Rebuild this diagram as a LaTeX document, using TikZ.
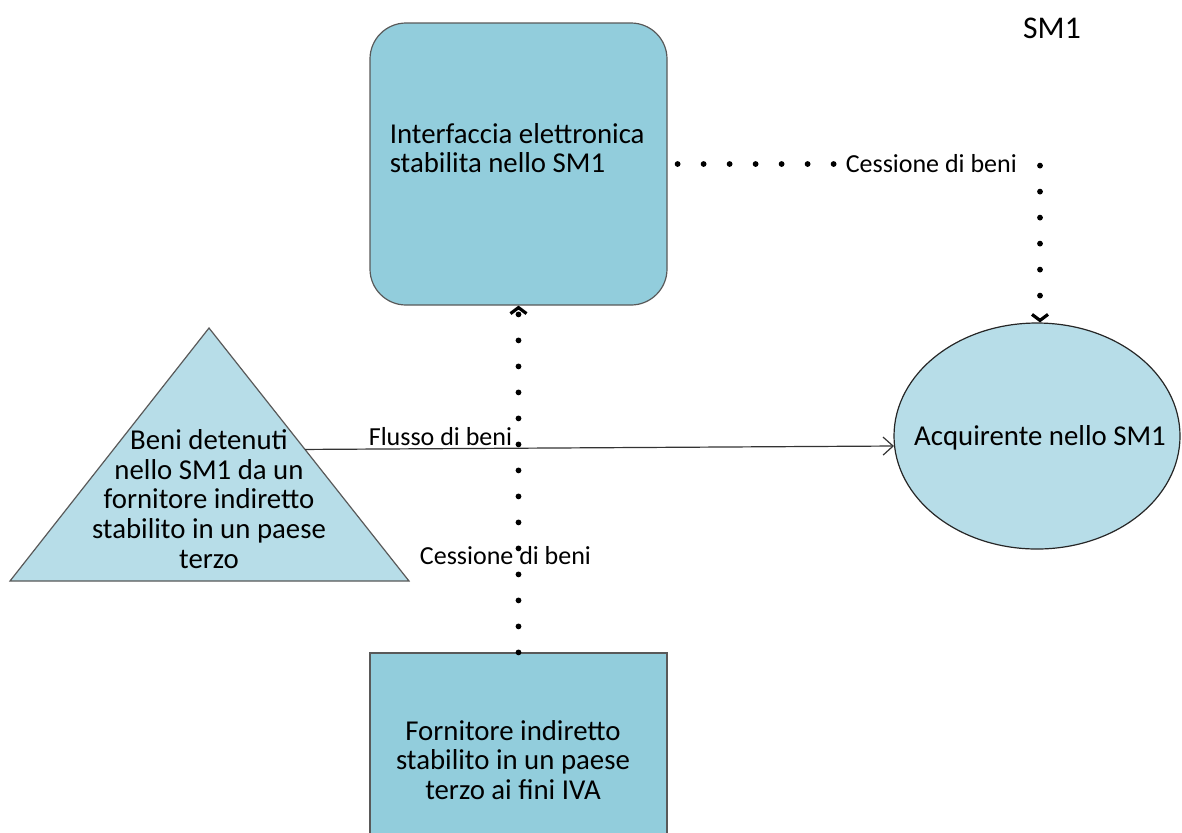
\documentclass[tikz,border=0pt]{standalone}
\usepackage{fontspec}
\setmainfont{Carlito}
\usetikzlibrary{arrows.meta,shapes.geometric,calc}

\definecolor{boxblue}{RGB}{146,205,220}
\definecolor{paleblue}{RGB}{183,221,232}

\tikzset{
  box/.style={draw=gray!70!black, line width=0.6pt, fill=boxblue, minimum width=148.5pt, inner sep=0pt},
  txt/.style={font=\fontsize{14.4}{14.8}\selectfont, align=center, inner sep=0pt},
  lbl/.style={font=\fontsize{13}{14}\selectfont, inner sep=0pt},
  dots/.style={line width=2.9pt, line cap=round, dash pattern=on 0pt off 13pt},
  dotarrow/.style={dots, -{Straight Barb[length=3pt,width=8pt,line width=1.6pt]}},
  flow/.style={line width=0.6pt, draw=black!80, -{Straight Barb[length=5pt,width=9pt,line width=0.6pt]}}
}

\begin{document}
\begin{tikzpicture}[x=0.5pt,y=-0.5pt]
\useasboundingbox (0,0) rectangle (1182,832);
\node[box, rounded corners=18pt, minimum height=141pt] (iface) at (518.5,164) {}; % interfaccia
\node[txt, align=left, anchor=west] (ifacetxt) at ($(iface.west)+(20,-16)$) {Interfaccia elettronica\\stabilita nello SM1};
\coordinate (apex) at (209,328); % triangolo
\coordinate (bl) at (10,581);
\coordinate (br) at (409,581);
\draw[draw=gray!70!black, line width=0.6pt, fill=paleblue] (apex) -- (br) -- (bl) -- cycle;
\node[txt] (goods) at (209,499) {Beni detenuti\\nello SM1 da un\\fornitore indiretto\\stabilito in un paese\\terzo};
\coordinate (flowstart) at ($(apex)!0.48!(br)$);
\node[ellipse, draw=black!85, line width=0.6pt, fill=paleblue, minimum width=143pt, minimum height=113pt, inner sep=0pt] (buyer) at (1037,436) {}; % acquirente
\node[txt] (buyertxt) at (1040,438) {Acquirente nello SM1};
\node[box, minimum height=123.5pt] (supplier) at (518.5,776.5) {}; % fornitore
\node[txt] (suppliertxt) at (513,760) {Fornitore indiretto\\stabilito in un paese\\terzo ai fini IVA};
\node[txt, font=\fontsize{15.8}{16}\selectfont] (sm) at (1052,28) {SM1};
\draw[flow] (flowstart) -- (buyer.184) node[lbl, pos=0.23, above=1pt] (lblflow) {Flusso di beni}; % flusso
\draw[dotarrow] (supplier.north) -- (iface.south) node[lbl, pos=0.28, xshift=-6.5pt] (lblsupply) {Cessione di beni};
\draw[dotarrow] ([xshift=5pt]iface.east) -| ([xshift=1.5pt]buyer.north) node[lbl, pos=0.35, fill=white, inner xsep=2pt] (lblsale) {Cessione di beni};
\end{tikzpicture}
\end{document}
